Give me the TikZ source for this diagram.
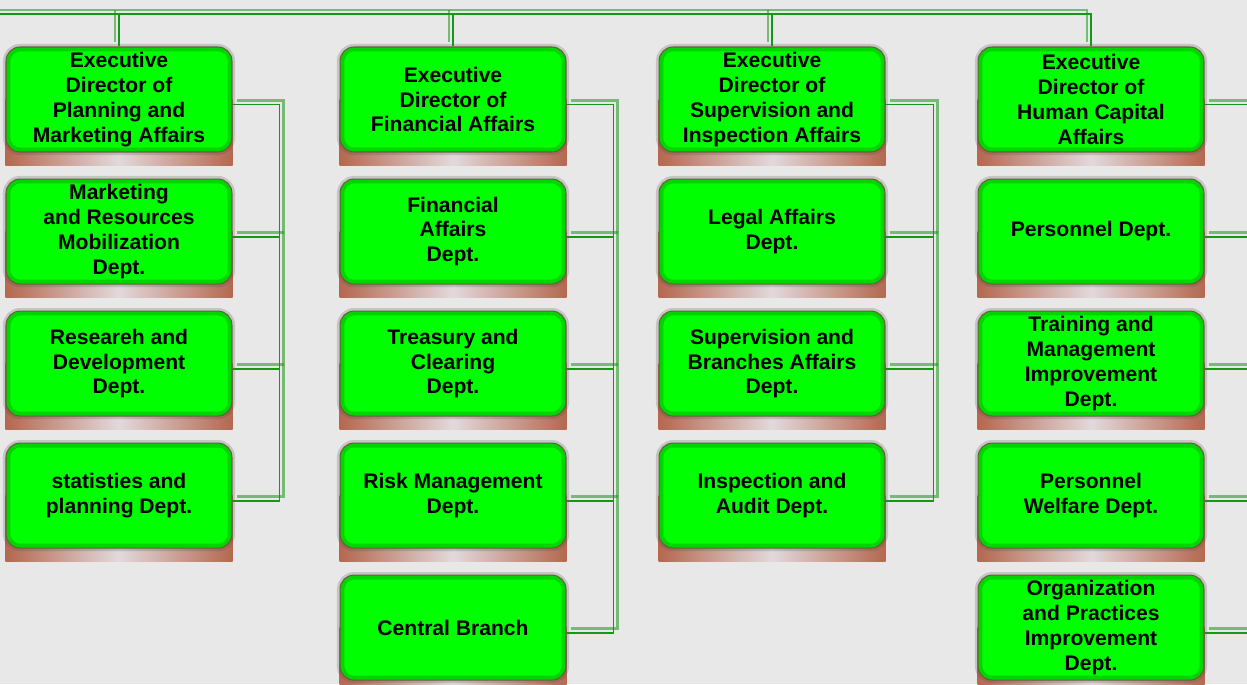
\documentclass[tikz,border=0pt]{standalone}
\usepackage{fontspec}
\setmainfont{Liberation Sans}
\usetikzlibrary{positioning,backgrounds}
\definecolor{pagegray}{HTML}{E8E8E8}
\definecolor{boxgreen}{HTML}{00FF00}
\definecolor{boxedge}{HTML}{6A5E3A}
\definecolor{linkgreen}{HTML}{179617}
\definecolor{plinthbrown}{HTML}{B4684F}
\definecolor{plinthmid}{HTML}{E2D9DC}
\tikzset{
    dept/.style={ % the green boxes
        rectangle, rounded corners=8pt, draw=boxedge, line width=0.6pt, fill=boxgreen,
        minimum width=4.52cm, minimum height=2.1cm, align=center, inner sep=0pt,
        font=\fontsize{12}{14.2}\selectfont\bfseries,
        preaction={draw=black!70, opacity=.22, line width=3.5pt}, % soft grey rim
        path picture={\draw[green!35!black, opacity=.25, line width=5pt] (path picture bounding box.south west) rectangle (path picture bounding box.north east);}
    },
    plinth/.style={left color=plinthbrown, right color=plinthbrown, middle color=plinthmid}, % strip under each box
    link/.style={draw=linkgreen, line width=1.1pt}, % dark line
    glow/.style={draw=linkgreen, line width=1.3pt, draw opacity=.55}, % light line next to it
    node distance=0.52cm,
}
% side lines of the four columns, drawn in style #1
\newcommand\sidelinks[1]{%
    \draw[#1] (plan.east) -- ++(47,0) coordinate (bus1) -- (bus1 |- planstat.east) -- (planstat.east);
    \draw[#1] (planmkt.east) -- (planmkt.east -| bus1);
    \draw[#1] (planrd.east) -- (planrd.east -| bus1);
    \draw[#1] (fin.east) -- ++(47,0) coordinate (bus2) -- (bus2 |- central.east) -- (central.east);
    \draw[#1] (finaff.east) -- (finaff.east -| bus2);
    \draw[#1] (treas.east) -- (treas.east -| bus2);
    \draw[#1] (risk.east) -- (risk.east -| bus2);
    \draw[#1] (sup.east) -- ++(48,0) coordinate (bus3) -- (bus3 |- audit.east) -- (audit.east);
    \draw[#1] (legal.east) -- (legal.east -| bus3);
    \draw[#1] (branch.east) -- (branch.east -| bus3);
    \draw[#1] (hc.east) -- ++(60,0) coordinate (bus4) -- (bus4 |- org.east) -- (org.east);
    \draw[#1] (pers.east) -- (pers.east -| bus4);
    \draw[#1] (train.east) -- (train.east -| bus4);
    \draw[#1] (welfare.east) -- (welfare.east -| bus4);
}

\begin{document}
\begin{tikzpicture}[x=0.02cm, y=-0.02cm]
\useasboundingbox (0,0) rectangle (1247,684);
\clip (0,0) rectangle (1247,684);
\begin{scope}[on background layer]
  \fill[pagegray] (0,0) rectangle (1247,684);
\end{scope}

% planning and marketing
\node[dept] (plan) at (119,99.5) {Executive\\Director of\\Planning and\\Marketing Affairs};
\node[dept, below=of plan] (planmkt) {Marketing\\and Resources\\Mobilization\\Dept.};
\node[dept, below=of planmkt] (planrd) {Researeh and\\Development\\Dept.};
\node[dept, below=of planrd] (planstat) {statisties and\\planning Dept.};

% financial
\node[dept] (fin) at (453,99.5) {Executive\\Director of\\Financial Affairs};
\node[dept, below=of fin] (finaff) {Financial\\Affairs\\Dept.};
\node[dept, below=of finaff] (treas) {Treasury and\\Clearing\\Dept.};
\node[dept, below=of treas] (risk) {Risk Management\\Dept.};
\node[dept, below=of risk] (central) {Central Branch};

% supervision and inspection
\node[dept] (sup) at (772,99.5) {Executive\\Director of\\Supervision and\\Inspection Affairs};
\node[dept, below=of sup] (legal) {Legal Affairs\\Dept.};
\node[dept, below=of legal] (branch) {Supervision and\\Branches Affairs\\Dept.};
\node[dept, below=of branch] (audit) {Inspection and\\Audit Dept.};

% human capital
\node[dept] (hc) at (1091,99.5) {Executive\\Director of\\Human Capital\\Affairs};
\node[dept, below=of hc] (pers) {Personnel Dept.};
\node[dept, below=of pers] (train) {Training and\\Management\\Improvement\\Dept.};
\node[dept, below=of train] (welfare) {Personnel\\Welfare Dept.};
\node[dept, below=of welfare] (org) {Organization\\and Practices\\Improvement\\Dept.};

\begin{scope}[on background layer]
  \foreach \b in {plan,planmkt,planrd,planstat,fin,finaff,treas,risk,central,
                  sup,legal,branch,audit,hc,pers,train,welfare,org}
    \shade[plinth] (\b.west) rectangle ([yshift=-0.26cm]\b.south east);
\end{scope}

% top line
\coordinate (topbus) at (0,14);
\draw[link] (topbus) -| (hc.north);
\foreach \e in {plan,fin,sup}
  \draw[link] (topbus -| \e.north) -- (\e.north);
\begin{scope}[transform canvas={xshift=-0.08cm, yshift=0.08cm}]
  \draw[glow] (topbus) -| (hc.north);
  \foreach \e in {plan,fin,sup}
    \draw[glow] (topbus -| \e.north) -- (\e.north);
\end{scope}

% side lines
\begin{scope}[transform canvas={yshift=-0.1cm}]
  \sidelinks{link}
\end{scope}
\begin{scope}[transform canvas={xshift=0.08cm, yshift=-0.02cm}]
  \sidelinks{glow}
\end{scope}
\end{tikzpicture}
\end{document}
